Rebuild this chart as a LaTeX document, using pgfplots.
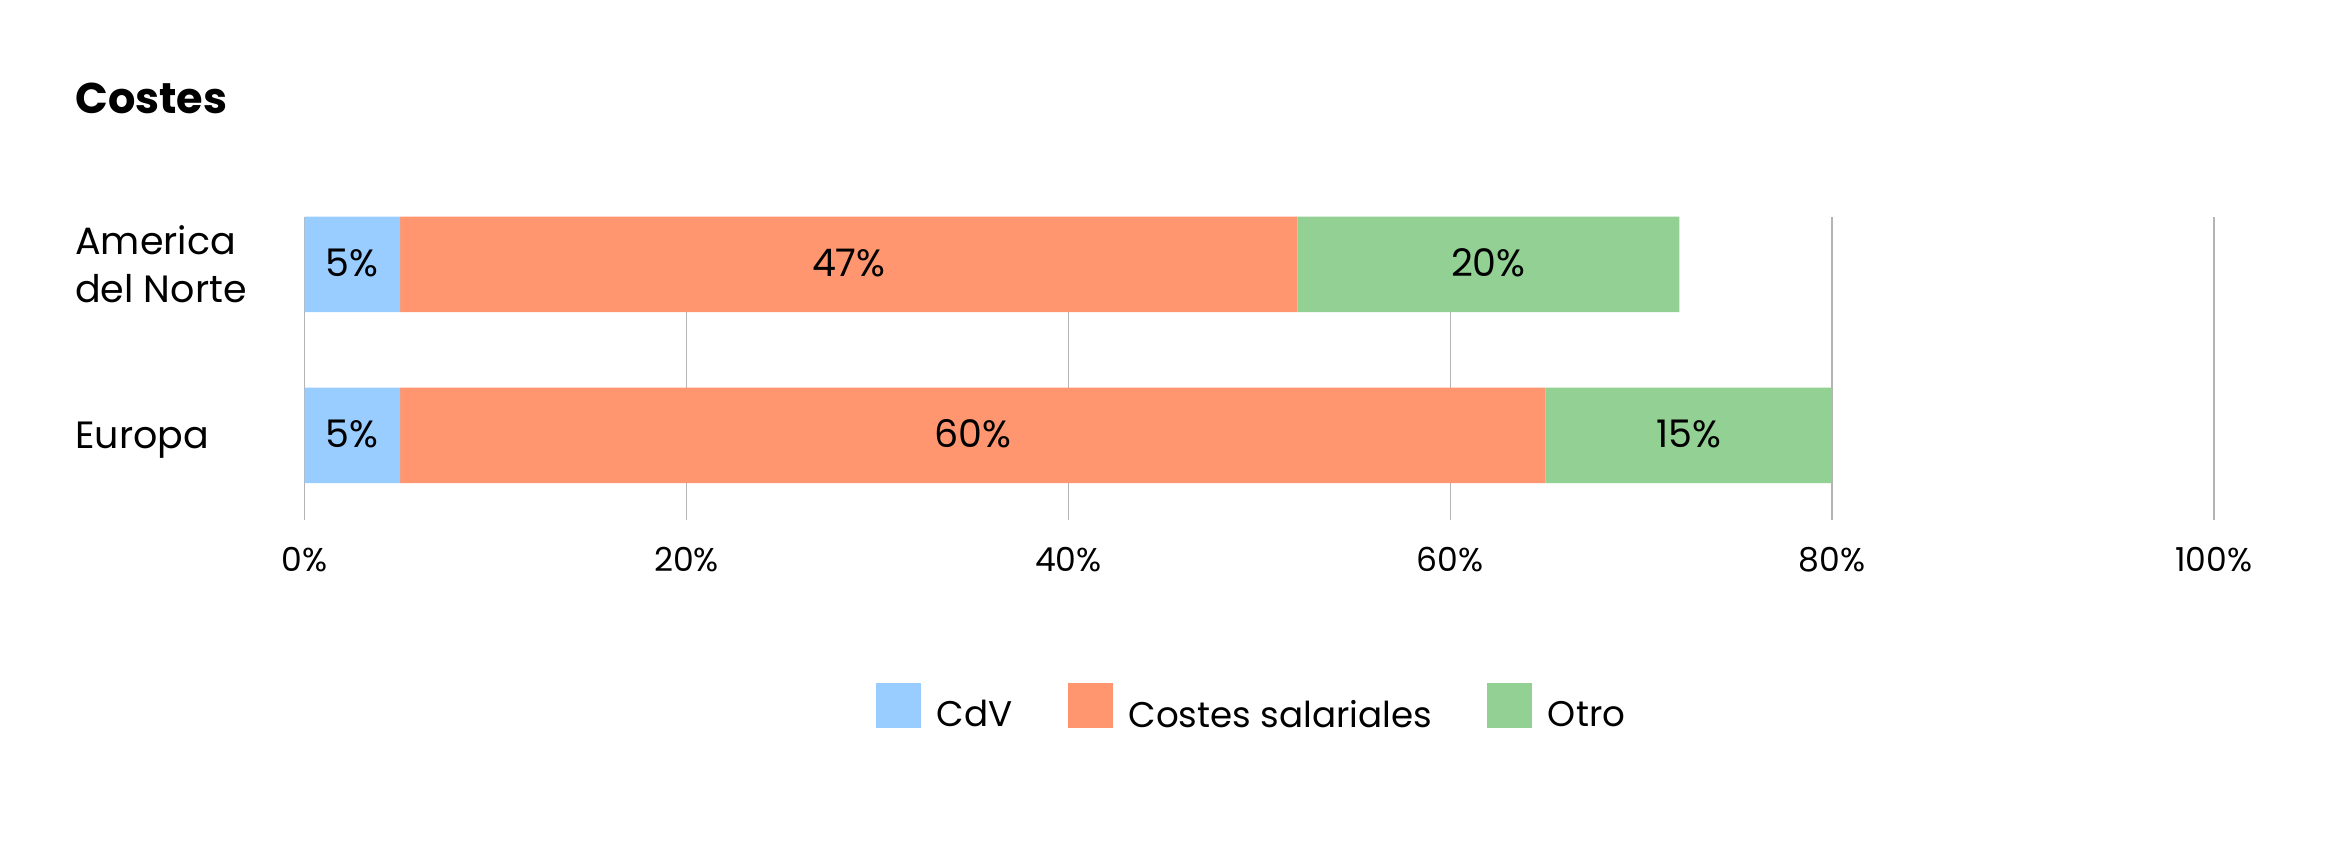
\documentclass[border=0pt]{standalone}
\usepackage{fontspec}
\setmainfont{Poppins}
\usepackage{pgfplots}
\pgfplotsset{compat=1.18}
\definecolor{cdv}{RGB}{153,204,255}
\definecolor{sal}{RGB}{255,150,112}
\definecolor{otro}{RGB}{146,208,148}
\definecolor{gridc}{RGB}{180,180,180}
\begin{document}
\begin{tikzpicture}
\useasboundingbox (0,0) rectangle (702.3pt,255.3pt);
\node[anchor=base west, inner sep=0pt, font=\fontsize{12.9}{15}\selectfont\bfseries] at (22.4pt,221.4pt) {Costes};
\pgfplotsset{base/.style={at={(91.38pt,99.42pt)}, anchor=south west, scale only axis,
  width=572.8pt, height=90.9pt, xmin=0, xmax=100, ymin=-0.493, ymax=1.279, clip=false}}
\begin{axis}[base,
  xbar stacked, bar width=28.65pt,
  axis line style={draw=none},
  major tick length=0pt,
  xtick={0,20,40,60,80,100},
  xticklabel={\pgfmathprintnumber{\tick}\%},
  /pgf/number format/assume math mode=true,
  xticklabel style={font=\fontsize{9.9}{12}\selectfont, anchor=center, yshift=-12pt},
  ytick={0,1},
  yticklabels={Europa,{America\\del Norte}},
  yticklabel style={font=\fontsize{11.4}{14.4}\selectfont, anchor=west, align=left, inner sep=0pt, text depth=0pt, xshift=-69pt},
  xmajorgrids, grid style={draw=gridc, line width=0.35pt},
  legend columns=3,
  legend style={at={(0.5,-0.632)}, anchor=center, xshift=-1.6pt, draw=none, font=\fontsize{10.7}{13}\selectfont,
     /tikz/every even column/.append style={column sep=14.6pt}},
  legend image code/.code={\fill[#1] (0pt,-3.75pt) rectangle (13.5pt,9.75pt); \path (16.2pt,0pt);},
]
\addplot[fill=cdv, draw=none] coordinates {(5,1) (5,0)};
\addplot[fill=sal, draw=none] coordinates {(47,1) (60,0)};
\addplot[fill=otro, draw=none] coordinates {(20,1) (15,0)};
\legend{CdV,Costes salariales,Otro}
\end{axis}
\begin{axis}[base, hide axis]
\addplot[only marks, mark=none, nodes near coords, point meta=explicit symbolic,
  every node near coord/.append style={anchor=center, yshift=0.4pt, font=\fontsize{11.4}{14}\selectfont, text=black}]
  coordinates {(2.5,1) [5\%] (28.5,1) [47\%] (62,1) [20\%] (2.5,0) [5\%] (35,0) [60\%] (72.5,0) [15\%]};
\end{axis}
\end{tikzpicture}
\end{document}
